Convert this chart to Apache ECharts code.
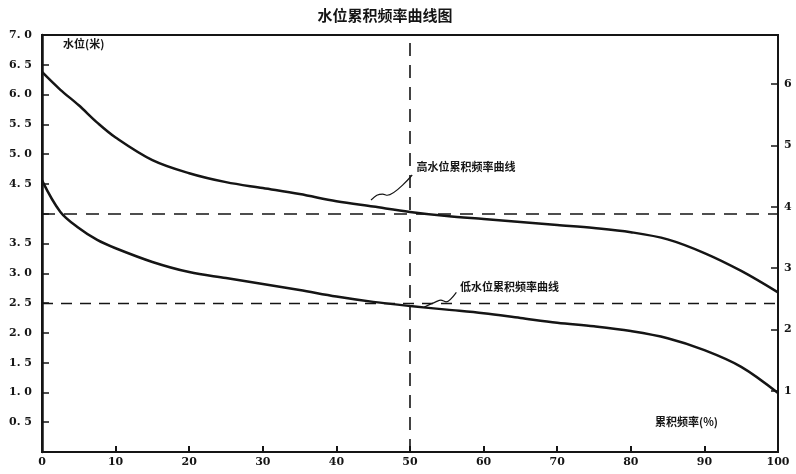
<!DOCTYPE html>
<html>
<head>
<meta charset="utf-8">
<script src="https://cdn.jsdelivr.net/npm/echarts@6/dist/echarts.min.js"></script>
<style>html,body{margin:0;padding:0;background:#fff;}#c{width:796px;height:474px;}</style>
</head>
<body>
<div id="c"></div>
<script>
// X tick labels: cumulative frequency (%)
const xTicks = [0, 10, 20, 30, 40, 50, 60, 70, 80, 90, 100];
// Sample positions along the frequency axis (%)
const freq = [0, 2.5, 5, 7.5, 10, 15, 20, 25, 30, 35, 40, 45, 50, 55, 60, 65, 70, 75, 80, 85, 90, 95, 100];
// High water level cumulative frequency curve (m)
const highY = [6.38, 6.08, 5.82, 5.53, 5.28, 4.90, 4.68, 4.53, 4.43, 4.33, 4.21, 4.12, 4.03, 3.96, 3.91, 3.86, 3.81, 3.76, 3.69, 3.57, 3.34, 3.04, 2.68];
// Low water level cumulative frequency curve (m)
const lowY = [4.56, 4.03, 3.76, 3.56, 3.42, 3.19, 3.02, 2.92, 2.82, 2.72, 2.61, 2.52, 2.45, 2.39, 2.33, 2.25, 2.17, 2.11, 2.03, 1.91, 1.71, 1.43, 0.99];
// Left axis labels (4.0 and 0 not labelled)
const leftLabels = ['0.5','1.0','1.5','2.0','2.5','3.0','3.5','4.5','5.0','5.5','6.0','6.5','7.0'];
// Right axis labels
const rightLabels = ['1','2','3','4','5','6'];
// Reference lines
const medianX = 50;
const highRef = 4.0;
const lowRef = 2.5;
// Leader lines for annotations
const highLeaderX = [44.7, 45.5, 46.3, 46.9, 50.3];
const highLeaderY = [4.23, 4.31, 4.33, 4.31, 4.65];
const lowLeaderX = [51.9, 53.5, 54.2, 54.9, 56.3];
const lowLeaderY = [2.43, 2.52, 2.55, 2.52, 2.68];
const highLabel = {text: '高水位累积频率曲线', x: 50.9, y: 4.78};
const lowLabel = {text: '低水位累积频率曲线', x: 56.8, y: 2.77};

const zip = (a, b) => a.map((v, i) => [v, b[i]]);
const ink = '#151515';
const numFont = 'DejaVu Serif';
const cjk = 'Noto Sans CJK SC';

const chart = echarts.init(document.getElementById('c'), null, {renderer: 'canvas'});
chart.setOption({
  backgroundColor: '#fff',
  animation: false,
  title: {
    text: '水位累积频率曲线图', left: 380, top: 3, textAlign: 'center',
    textStyle: {fontFamily: cjk, fontSize: 15, fontWeight: 'bold', color: ink}
  },
  grid: {left: 42, right: 18, top: 35, bottom: 22, show: true, borderColor: ink, borderWidth: 2, backgroundColor: 'transparent'},
  graphic: [
    {type: 'text', left: 63, top: 38, style: {text: '水位(米)', font: 'bold 11px "Noto Sans CJK SC"', fill: ink}},
    {type: 'text', left: 655, top: 416, style: {text: '累积频率(%)', font: 'bold 11px "Noto Sans CJK SC"', fill: ink}}
  ],
  xAxis: {
    type: 'value', min: 0, max: 100, interval: 10,
    axisLine: {show: true, lineStyle: {color: ink, width: 2}},
    axisTick: {show: true, inside: true, length: 6, lineStyle: {color: ink, width: 2}},
    splitLine: {show: false},
    axisLabel: {
      margin: 5, color: ink, fontFamily: numFont, fontWeight: 'bold', fontSize: 11,
      formatter: v => xTicks.indexOf(v) >= 0 ? String(v) : ''
    }
  },
  yAxis: [
    {
      type: 'value', min: 0, max: 7, interval: 0.5, position: 'left',
      axisLine: {show: true, lineStyle: {color: ink, width: 2.5}},
      axisTick: {show: true, inside: true, length: 7, lineStyle: {color: ink, width: 1.5}},
      splitLine: {show: false},
      axisLabel: {
        margin: 10, color: ink, fontFamily: numFont, fontWeight: 'bold', fontSize: 11,
        formatter: v => {
          const s = v.toFixed(1);
          return leftLabels.indexOf(s) >= 0 ? s.replace('.', '. ') : '';
        }
      }
    },
    {
      type: 'value', min: 0, max: 6.8, interval: 1, position: 'right',
      axisLine: {show: true, lineStyle: {color: ink, width: 2}},
      axisTick: {show: true, inside: true, length: 7, lineStyle: {color: ink, width: 1.5}},
      splitLine: {show: false},
      axisLabel: {
        margin: 6, color: ink, fontFamily: numFont, fontWeight: 'bold', fontSize: 11,
        showMinLabel: false, showMaxLabel: false,
        formatter: v => rightLabels.indexOf(String(v)) >= 0 ? String(v) : ''
      }
    }
  ],
  series: [
    {
      type: 'line', name: '高水位累积频率曲线', data: zip(freq, highY), smooth: 0.35,
      symbol: 'none', lineStyle: {color: ink, width: 2.5}, z: 5,
      markLine: {
        silent: true, symbol: 'none', label: {show: false},
        lineStyle: {color: ink, width: 1.6, type: [13, 9]},
        data: [{xAxis: medianX}, {yAxis: highRef}]
      },
      markPoint: {
        silent: true, symbol: 'circle', symbolSize: 0,
        label: {show: true, position: 'right', distance: 0, formatter: '{b}', color: ink, fontFamily: cjk, fontWeight: 'bold', fontSize: 11},
        data: [{name: highLabel.text, coord: [highLabel.x, highLabel.y]}]
      }
    },
    {
      type: 'line', name: '低水位累积频率曲线', data: zip(freq, lowY), smooth: 0.35,
      symbol: 'none', lineStyle: {color: ink, width: 2.5}, z: 5,
      markLine: {
        silent: true, symbol: 'none', label: {show: false},
        lineStyle: {color: ink, width: 1.4, type: [11, 8]},
        data: [{yAxis: lowRef}]
      },
      markPoint: {
        silent: true, symbol: 'circle', symbolSize: 0,
        label: {show: true, position: 'right', distance: 0, formatter: '{b}', color: ink, fontFamily: cjk, fontWeight: 'bold', fontSize: 11},
        data: [{name: lowLabel.text, coord: [lowLabel.x, lowLabel.y]}]
      }
    },
    {
      type: 'line', data: zip(highLeaderX, highLeaderY), smooth: 0.3, symbol: 'none',
      lineStyle: {color: ink, width: 1.2}, silent: true
    },
    {
      type: 'line', data: zip(lowLeaderX, lowLeaderY), smooth: 0.3, symbol: 'none',
      lineStyle: {color: ink, width: 1.2}, silent: true
    }
  ]
});
</script>
</body>
</html>
